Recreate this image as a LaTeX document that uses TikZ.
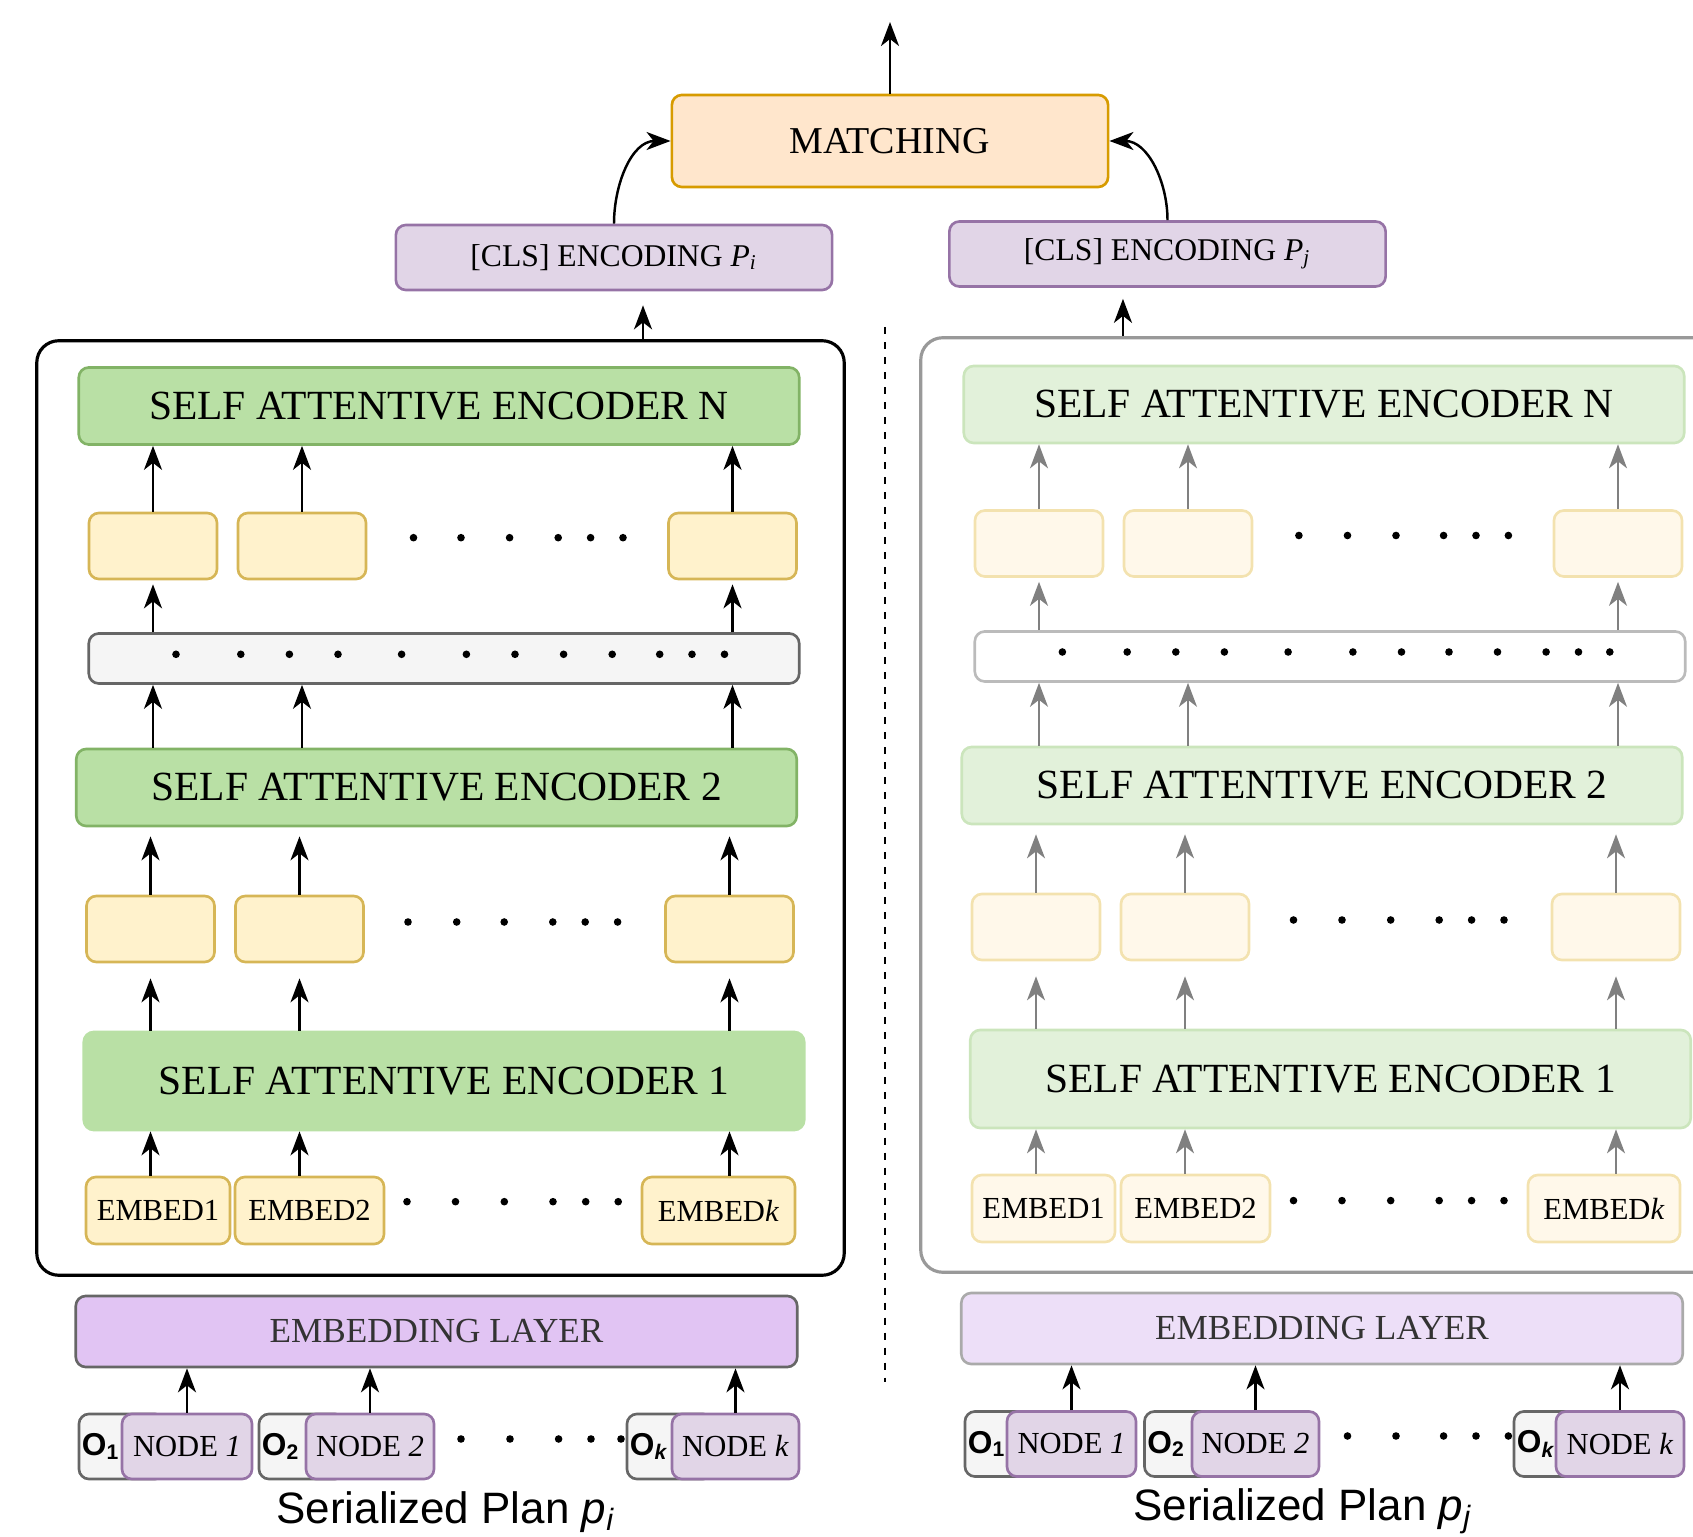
\documentclass[tikz,border=0pt]{standalone}
\usepackage{fontspec}
\setmainfont{Liberation Serif}
\newfontfamily\plansans{Liberation Sans}
\usetikzlibrary{arrows.meta}

\definecolor{matchfill}{HTML}{FFE6CC}
\definecolor{matchdraw}{HTML}{D79B00}
\definecolor{clsfill}{HTML}{E1D5E7}
\definecolor{clsdraw}{HTML}{9673A6}
\definecolor{encfill}{HTML}{B9E0A5}
\definecolor{encdraw}{HTML}{82B366}
\definecolor{cellfill}{HTML}{FFF2CC}
\definecolor{celldraw}{HTML}{D6B656}
\definecolor{barfill}{HTML}{F5F5F5}
\definecolor{bardraw}{HTML}{666666}
\definecolor{layerfill}{HTML}{E1C4F3}
\definecolor{layertext}{HTML}{333333}
% faded colours of the right plan
\definecolor{encfillf}{HTML}{E2F1DA}
\definecolor{encdrawf}{HTML}{CBE5BC}
\definecolor{cellfillf}{HTML}{FFF8EA}
\definecolor{celldrawf}{HTML}{F3E2AF}
\definecolor{bardrawf}{HTML}{BBBBBB}
\definecolor{layerfillf}{HTML}{EDDFF8}
\definecolor{layerdrawf}{HTML}{AAAAAA}
\definecolor{outerdrawf}{HTML}{999999}
\definecolor{arrowf}{HTML}{808080}

\tikzset{
  box/.style={rounded corners=0.1cm, line width=0.75pt, inner sep=0pt},
  matchbox/.style={box, fill=matchfill, draw=matchdraw, minimum width=4.36cm, minimum height=0.92cm, font=\fontsize{10.8}{12}\selectfont},
  clsbox/.style={box, fill=clsfill, draw=clsdraw, minimum width=4.36cm, minimum height=0.65cm, font=\fontsize{9}{11}\selectfont},
  outerbox/.style={rounded corners=0.22cm, line width=0.9pt, draw=black, minimum width=8.07cm, minimum height=9.34cm},
  enc/.style={box, fill=encfill, draw=encdraw, minimum width=7.2cm, minimum height=0.77cm, font=\fontsize{11.8}{13}\selectfont},
  cell/.style={box, fill=cellfill, draw=celldraw, minimum width=1.28cm, minimum height=0.66cm},
  bar/.style={box, fill=barfill, draw=bardraw, minimum width=7.1cm, minimum height=0.5cm},
  embed/.style={box, fill=cellfill, draw=celldraw, minimum height=0.67cm, font=\fontsize{8.7}{10}\selectfont},
  layer/.style={box, fill=layerfill, draw=bardraw, text=layertext, minimum width=7.21cm, minimum height=0.71cm, font=\fontsize{10}{12}\selectfont},
  obox/.style={box, fill=barfill, draw=bardraw, minimum height=0.65cm, inner xsep=0.03cm, font=\plansans\bfseries\fontsize{9}{10}\selectfont},
  treenode/.style={box, fill=clsfill, draw=clsdraw, minimum height=0.65cm, font=\fontsize{8.7}{10}\selectfont},
  plan/.style={font=\plansans\fontsize{12.5}{15}\selectfont, anchor=base, inner sep=0pt},
  arr/.style={-{Stealth[length=0.24cm,width=0.18cm,inset=0.07cm]}, line width=0.7pt},
  % right plan, faded
  outerboxf/.style={outerbox, draw=outerdrawf, minimum width=7.99cm},
  encf/.style={enc, fill=encfillf, draw=encdrawf},
  cellf/.style={cell, fill=cellfillf, draw=celldrawf},
  barf/.style={bar, fill=white, draw=bardrawf},
  embedf/.style={embed, fill=cellfillf, draw=celldrawf},
  layerf/.style={layer, fill=layerfillf, draw=layerdrawf},
  arrf/.style={arr, draw=arrowf, line width=0.5pt},
}

\begin{document}
\begin{tikzpicture}[x=0.01cm,y=0.01cm]
\useasboundingbox (0,0) rectangle (1693,-1537);
% matching of the two [CLS] encodings
\node[matchbox] (match) at (890,-141) {MATCHING};
\coordinate (out) at (890,-22);
\node[clsbox] (clsi) at (614,-257.5) {[CLS] ENCODING \textit{P}\textsubscript{\textit{i}}};
\node[clsbox] (clsj) at (1167.5,-254) {[CLS] ENCODING \textit{P}\textsubscript{\textit{j}}};
\draw[arr] (match.north) -- (out);
\draw[arr] (clsi.north) to[out=90,in=180] (match.west);
\draw[arr] (clsj.north) to[out=90,in=0] (match.east);
\draw[dash pattern=on 0.07cm off 0.08cm, line width=0.5pt] (885,-327) -- (885,-1382);

% plan p_i
\node[outerbox] (framel) at (440.5,-808) {};
\node[enc] (encNl) at (439,-406) {SELF ATTENTIVE ENCODER N};
\node[cell] (yu1l) at (153,-546) {};
\node[cell] (yu2l) at (302,-546) {};
\node[cell] (yu3l) at (732.5,-546) {};
\node[bar] (barl) at (444,-658.5) {};
\node[enc] (enc2l) at (436.5,-787.5) {SELF ATTENTIVE ENCODER 2};
\node[cell] (yl1l) at (150.5,-929) {};
\node[cell] (yl2l) at (299.5,-929) {};
\node[cell] (yl3l) at (729.5,-929) {};
\node[enc, minimum height=0.98cm, draw=encfill] (enc1l) at (444,-1081) {SELF ATTENTIVE ENCODER 1};
\node[embed, minimum width=1.44cm] (e1l) at (158,-1210.5) {EMBED1};
\node[embed, minimum width=1.49cm] (e2l) at (309.5,-1210.5) {EMBED2};
\node[embed, minimum width=1.53cm] (ekl) at (718.5,-1210.5) {EMBED\textit{k}};
\node[layer] (embl) at (436.5,-1331.5) {EMBEDDING LAYER};
\node[obox] (o1l) at (122,-1446.5) {\makebox[0.80cm][l]{O\textsubscript{1}}};
\node[treenode, minimum width=1.30cm] (n1l) at (187,-1446.5) {NODE \textit{1}};
\node[obox] (o2l) at (302,-1446.5) {\makebox[0.80cm][l]{O\textsubscript{2}}};
\node[treenode, minimum width=1.28cm] (n2l) at (370,-1446.5) {NODE \textit{2}};
\node[obox] (okl) at (670,-1446.5) {\makebox[0.80cm][l]{O\textsubscript{\textit{k}}}};
\node[treenode, minimum width=1.27cm] (nkl) at (735.5,-1446.5) {NODE \textit{k}};
\node[plan] (planl) at (446,-1523) {Serialized Plan \textit{p}\textsubscript{\textit{i}}};
\fill (413.5,-537.7) circle (3.8) (461,-537.7) circle (3.8) (509.6,-537.7) circle (3.8)
      (558.2,-537.7) circle (3.8) (590.6,-537.7) circle (3.8) (623,-537.7) circle (3.8);
\fill (176,-654.3) circle (3.8) (240.8,-654.3) circle (3.8) (289.4,-654.3) circle (3.8)
      (338,-654.3) circle (3.8) (401.6,-654.3) circle (3.8) (466.4,-654.3) circle (3.8)
      (515,-654.3) circle (3.8) (563.6,-654.3) circle (3.8) (612.2,-654.3) circle (3.8)
      (659.7,-654.3) circle (3.8) (692,-654.3) circle (3.8) (724.5,-654.3) circle (3.8);
\fill (408,-922) circle (3.8) (456.7,-922) circle (3.8) (504.2,-922) circle (3.8)
      (552.8,-922) circle (3.8) (585.2,-922) circle (3.8) (617.6,-922) circle (3.8);
\fill (407,-1201.7) circle (3.8) (455.5,-1201.7) circle (3.8) (504.3,-1201.7) circle (3.8)
      (553,-1201.7) circle (3.8) (585.7,-1201.7) circle (3.8) (618.2,-1201.7) circle (3.8);
\fill (461,-1439) circle (3.8) (510,-1439) circle (3.8) (558.6,-1439) circle (3.8)
      (591,-1439) circle (3.8) (621,-1439) circle (3.8);
\draw[arr] (n1l.north) -- (n1l.north |- embl.south);
\draw[arr] (n2l.north) -- (n2l.north |- embl.south);
\draw[arr] (nkl.north) -- (nkl.north |- embl.south);
\draw[arr] (e1l.north -| yl1l) -- (enc1l.south -| yl1l);
\draw[arr] (e2l.north -| yl2l) -- (enc1l.south -| yl2l);
\draw[arr] (ekl.north -| yl3l) -- (enc1l.south -| yl3l);
\draw[arr, shorten >=0.15cm] (enc1l.north -| yl1l) -- (yl1l.south);
\draw[arr, shorten >=0.15cm] (enc1l.north -| yl2l) -- (yl2l.south);
\draw[arr, shorten >=0.15cm] (enc1l.north -| yl3l) -- (yl3l.south);
\draw[arr, shorten >=0.09cm] (yl1l.north) -- (enc2l.south -| yl1l);
\draw[arr, shorten >=0.09cm] (yl2l.north) -- (enc2l.south -| yl2l);
\draw[arr, shorten >=0.09cm] (yl3l.north) -- (enc2l.south -| yl3l);
\draw[arr] (enc2l.north -| yu1l) -- (barl.south -| yu1l);
\draw[arr] (enc2l.north -| yu2l) -- (barl.south -| yu2l);
\draw[arr] (enc2l.north -| yu3l) -- (barl.south -| yu3l);
\draw[arr, shorten >=0.04cm] (barl.north -| yu1l) -- (yu1l.south);
\draw[arr, shorten >=0.04cm] (barl.north -| yu3l) -- (yu3l.south);
\draw[arr] (yu1l.north) -- (encNl.south -| yu1l);
\draw[arr] (yu2l.north) -- (encNl.south -| yu2l);
\draw[arr] (yu3l.north) -- (encNl.south -| yu3l);
\draw[arr, shorten >=0.14cm] ([xshift=0.29cm]clsi.south |- framel.north) -- ([xshift=0.29cm]clsi.south);

% plan p_j
\node[outerboxf] (framer) at (1320.5,-805) {};
\node[encf] (encNr) at (1324,-404.5) {SELF ATTENTIVE ENCODER N};
\node[cellf] (yu1r) at (1039,-543.5) {};
\node[cellf] (yu2r) at (1188,-543.5) {};
\node[cellf] (yu3r) at (1618,-543.5) {};
\node[barf] (barr) at (1330,-656.5) {};
\node[encf] (enc2r) at (1322,-785.5) {SELF ATTENTIVE ENCODER 2};
\node[cellf] (yl1r) at (1036,-927) {};
\node[cellf] (yl2r) at (1185,-927) {};
\node[cellf] (yl3r) at (1616,-927) {};
\node[encf, minimum height=0.98cm] (enc1r) at (1330.5,-1079) {SELF ATTENTIVE ENCODER 1};
\node[embedf, minimum width=1.43cm] (e1r) at (1043.5,-1208.5) {EMBED1};
\node[embedf, minimum width=1.49cm] (e2r) at (1195.5,-1208.5) {EMBED2};
\node[embedf, minimum width=1.52cm] (ekr) at (1604,-1208.5) {EMBED\textit{k}};
\node[layerf] (embr) at (1322,-1328.5) {EMBEDDING LAYER};
\node[obox] (o1r) at (1008,-1444) {\makebox[0.80cm][l]{O\textsubscript{1}}};
\node[treenode, minimum width=1.29cm] (n1r) at (1071.5,-1444) {NODE \textit{1}};
\node[obox] (o2r) at (1187.5,-1444) {\makebox[0.80cm][l]{O\textsubscript{2}}};
\node[treenode, minimum width=1.27cm] (n2r) at (1255.5,-1444) {NODE \textit{2}};
\node[obox] (okr) at (1557,-1444) {\makebox[0.80cm][l]{O\textsubscript{\textit{k}}}};
\node[treenode, minimum width=1.28cm] (nkr) at (1620,-1444) {NODE \textit{k}};
\node[plan] (planr) at (1303,-1520) {Serialized Plan \textit{p}\textsubscript{\textit{j}}};
\fill (1298.9,-535.5) circle (3.8) (1347.5,-535.5) circle (3.8) (1396,-535.5) circle (3.8)
      (1443.6,-535.5) circle (3.8) (1476,-535.5) circle (3.8) (1508.4,-535.5) circle (3.8);
\fill (1062.4,-652) circle (3.8) (1127.2,-652) circle (3.8) (1175.8,-652) circle (3.8)
      (1224.4,-652) circle (3.8) (1288.1,-652) circle (3.8) (1352.9,-652) circle (3.8)
      (1401.5,-652) circle (3.8) (1449,-652) circle (3.8) (1497.5,-652) circle (3.8)
      (1546.1,-652) circle (3.8) (1578.5,-652) circle (3.8) (1609.8,-652) circle (3.8);
\fill (1293.5,-920) circle (3.8) (1342,-920) circle (3.8) (1390.7,-920) circle (3.8)
      (1439.2,-920) circle (3.8) (1471.6,-920) circle (3.8) (1504,-920) circle (3.8);
\fill (1293.5,-1200.6) circle (3.8) (1342,-1200.6) circle (3.8) (1390.7,-1200.6) circle (3.8)
      (1439.2,-1200.6) circle (3.8) (1471.6,-1200.6) circle (3.8) (1504,-1200.6) circle (3.8);
\fill (1347.5,-1436) circle (3.8) (1396,-1436) circle (3.8) (1443.6,-1436) circle (3.8)
      (1476,-1436) circle (3.8) (1508.4,-1436) circle (3.8);
\draw[arr] (n1r.north) -- (n1r.north |- embr.south);
\draw[arr] (n2r.north) -- (n2r.north |- embr.south);
\draw[arr] (nkr.north) -- (nkr.north |- embr.south);
\draw[arrf] (e1r.north -| yl1r) -- (enc1r.south -| yl1r);
\draw[arrf] (e2r.north -| yl2r) -- (enc1r.south -| yl2r);
\draw[arrf] (ekr.north -| yl3r) -- (enc1r.south -| yl3r);
\draw[arrf, shorten >=0.15cm] (enc1r.north -| yl1r) -- (yl1r.south);
\draw[arrf, shorten >=0.15cm] (enc1r.north -| yl2r) -- (yl2r.south);
\draw[arrf, shorten >=0.15cm] (enc1r.north -| yl3r) -- (yl3r.south);
\draw[arrf, shorten >=0.09cm] (yl1r.north) -- (enc2r.south -| yl1r);
\draw[arrf, shorten >=0.09cm] (yl2r.north) -- (enc2r.south -| yl2r);
\draw[arrf, shorten >=0.09cm] (yl3r.north) -- (enc2r.south -| yl3r);
\draw[arrf] (enc2r.north -| yu1r) -- (barr.south -| yu1r);
\draw[arrf] (enc2r.north -| yu2r) -- (barr.south -| yu2r);
\draw[arrf] (enc2r.north -| yu3r) -- (barr.south -| yu3r);
\draw[arrf, shorten >=0.04cm] (barr.north -| yu1r) -- (yu1r.south);
\draw[arrf, shorten >=0.04cm] (barr.north -| yu3r) -- (yu3r.south);
\draw[arrf] (yu1r.north) -- (encNr.south -| yu1r);
\draw[arrf] (yu2r.north) -- (encNr.south -| yu2r);
\draw[arrf] (yu3r.north) -- (encNr.south -| yu3r);
\draw[arr, shorten >=0.11cm] ([xshift=-0.445cm]clsj.south |- framer.north) -- ([xshift=-0.445cm]clsj.south);
\end{tikzpicture}
\end{document}
